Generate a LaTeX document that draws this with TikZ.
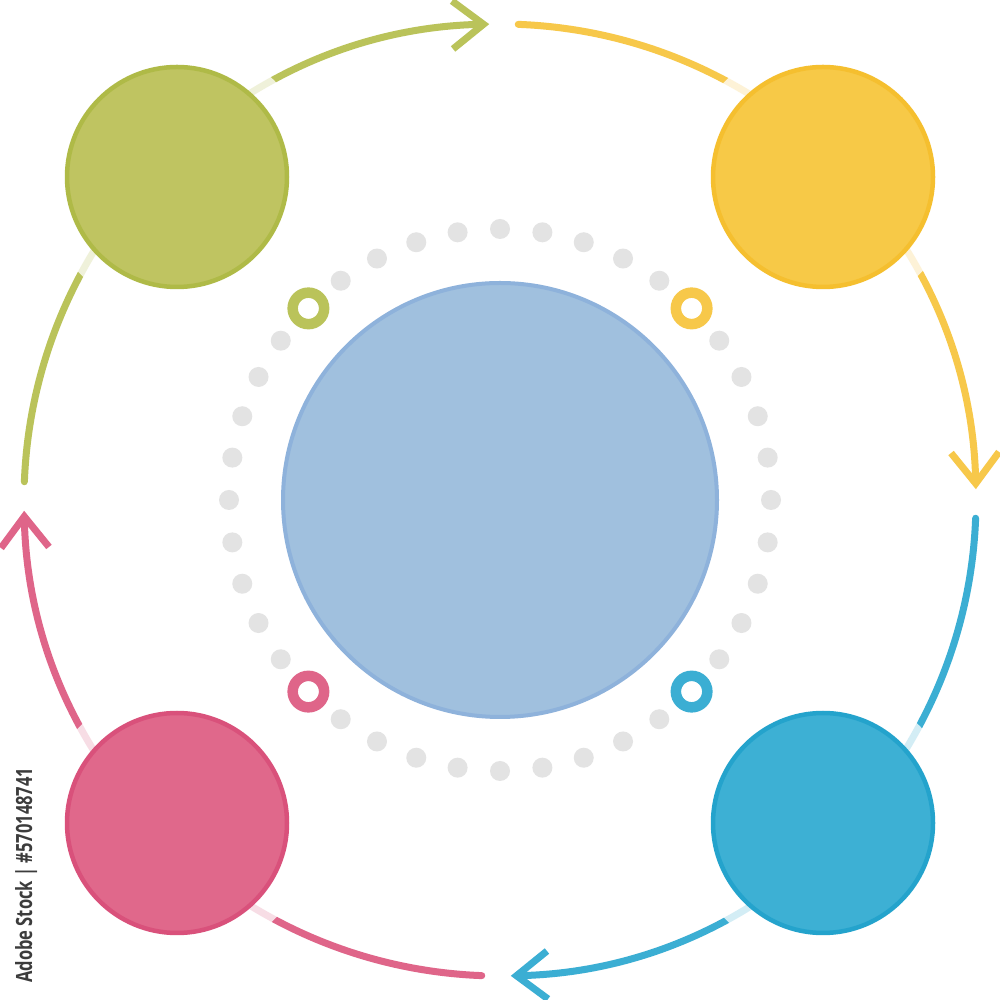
\documentclass[tikz,border=0pt]{standalone}
\usepackage{fontspec}
\newfontfamily\idfont{Open Sans}
\usetikzlibrary{arrows.meta}
\definecolor{grn}{HTML}{BFC461}
\definecolor{grnD}{HTML}{AFBA47}
\definecolor{grnA}{HTML}{BAC35A}
\definecolor{ylw}{HTML}{F7C947}
\definecolor{ylwD}{HTML}{F5BF2F}
\definecolor{ylwA}{HTML}{F7C84A}
\definecolor{pnk}{HTML}{E0688B}
\definecolor{pnkD}{HTML}{D9517B}
\definecolor{pnkA}{HTML}{DF6589}
\definecolor{blu}{HTML}{3DB0D4}
\definecolor{bluD}{HTML}{24A3CC}
\definecolor{bluA}{HTML}{3BAED3}
\definecolor{ctr}{HTML}{A0C0DE}
\definecolor{ctrD}{HTML}{8EB2DB}
\definecolor{dotc}{HTML}{E3E3E3}
\definecolor{idtext}{HTML}{3C3C3C}
\begin{document}
\begin{tikzpicture}[x=1pt,y=1pt,
  arcline/.style={line width=7pt, line cap=round,
    -{Straight Barb[length=31pt,width=48pt,line width=7pt]}},
  bigdisc/.style={circle, inner sep=0pt, minimum size=220pt, line width=4.5pt},
  paleveil/.style={white, opacity=0.78},
  ringmark/.style={circle, inner sep=0pt, minimum size=31.5pt, line width=10.5pt},
]
\useasboundingbox[fill=white] (0,0) rectangle (1000,1000);
\coordinate (o) at (500,500);

% outer arcs
\draw[arcline, grnA] ([shift={(177.8:476)}]o) arc[start angle=177.8, end angle=91.3, radius=476];
\draw[arcline, ylwA] ([shift={(87.8:476)}]o) arc[start angle=87.8, end angle=1.3, radius=476];
\draw[arcline, bluA] ([shift={(-2.2:476)}]o) arc[start angle=-2.2, end angle=-88.7, radius=476];
\draw[arcline, pnkA] ([shift={(267.8:476)}]o) arc[start angle=267.8, end angle=181.3, radius=476];

% pale veils near the outer discs
\fill[paleveil] (177,823) circle (137);
\fill[paleveil] (823,823) circle (137);
\fill[paleveil] (177,177) circle (137);
\fill[paleveil] (823,177) circle (137);

% outer discs
\node[bigdisc, fill=grn, draw=grnD] (g) at (177,823) {};
\node[bigdisc, fill=ylw, draw=ylwD] (y) at (823,823) {};
\node[bigdisc, fill=pnk, draw=pnkD] (p) at (177,177) {};
\node[bigdisc, fill=blu, draw=bluD] (b) at (823,177) {};

% dotted ring
\foreach \k in {0,...,39}{
  \pgfmathtruncatemacro\m{mod(\k,10)}
  \ifnum\m=5\else
    \fill[dotc] ([shift={(\k*9:271)}]o) circle (10);
  \fi
}

% small rings
\node[ringmark, draw=grnA] (rg) at (308.4,691.6) {};
\node[ringmark, draw=ylwA] (ry) at (691.6,691.6) {};
\node[ringmark, draw=pnkA] (rp) at (308.4,308.4) {};
\node[ringmark, draw=bluA] (rb) at (691.6,308.4) {};

% central disc
\node[circle, inner sep=0pt, minimum size=434pt, line width=4pt, fill=ctr, draw=ctrD] (c) at (o) {};

% id text
\node[rotate=90, anchor=base west, inner sep=0pt, text=idtext, font=\idfont\bfseries] (id) at (32,17)
  {\resizebox{215pt}{17pt}{Adobe Stock | \#570148741}};
\end{tikzpicture}
\end{document}
